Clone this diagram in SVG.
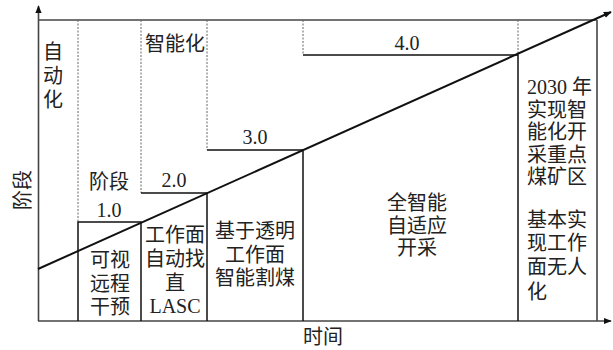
<svg xmlns="http://www.w3.org/2000/svg" width="613" height="350" viewBox="0 0 613 350">
<defs>
<style>
.ax{stroke:#444;stroke-width:1.6;fill:none}
.ln{stroke:#111;stroke-width:1.5;fill:none}
.ds{stroke:#666;stroke-width:1;stroke-dasharray:2 1.5;fill:none}
.diag{stroke:#111;stroke-width:2;fill:none}
text{font-family:"Liberation Serif","Noto Sans CJK SC",serif;font-size:20px;fill:#222;dominant-baseline:central}
.c{text-anchor:middle}
</style>
<marker id="ah" viewBox="0 0 10 10" refX="9" refY="5" markerWidth="8" markerHeight="8" markerUnits="userSpaceOnUse" orient="auto">
<path d="M0,1 L10,5 L0,9 Z" fill="#111"/>
</marker>
</defs>
<g id="connectors">
<line class="ax" x1="38.5" y1="321" x2="38.5" y2="6" marker-end="url(#ah)"/>
<line class="ax" x1="38" y1="321" x2="611" y2="321" marker-end="url(#ah)"/>
<line class="ax" x1="38" y1="20" x2="597" y2="20"/>
<line class="ax" x1="597" y1="20" x2="597" y2="321"/>
<line class="ds" x1="78" y1="20" x2="78" y2="222"/>
<line class="ds" x1="141" y1="20" x2="141" y2="193"/>
<line class="ds" x1="207" y1="20" x2="207" y2="150"/>
<line class="ds" x1="303" y1="20" x2="303" y2="55"/>
<line class="ds" x1="518" y1="20" x2="518" y2="55"/>
<polyline class="ln" points="78,321 78,222 141,222 141,321"/>
<polyline class="ln" points="141,193 207,193 207,321"/>
<polyline class="ln" points="207,150 303,150 303,321"/>
<polyline class="ln" points="303,55 518,55 518,321"/>
<line class="diag" x1="38" y1="269" x2="611" y2="12" marker-end="url(#ah)"/>
</g>
<g id="axis-labels">
<text class="c" transform="translate(23,190) rotate(-90)" x="0" y="0">阶段</text>
<text class="c" x="323" y="337">时间</text>
</g>
<g id="stage-auto">
<text class="c" x="53" y="52">自</text>
<text class="c" x="53" y="76">动</text>
<text class="c" x="53" y="100">化</text>
</g>
<g id="stage-smart">
<text class="c" x="175" y="44">智能化</text>
</g>
<g id="stage-1">
<text class="c" x="109" y="182">阶段</text>
<text class="c" x="109" y="210">1.0</text>
<text class="c" x="110" y="260">可视</text>
<text class="c" x="110" y="284">远程</text>
<text class="c" x="110" y="307">干预</text>
</g>
<g id="stage-2">
<text class="c" x="174" y="180">2.0</text>
<text class="c" x="175" y="235">工作面</text>
<text class="c" x="175" y="259">自动找</text>
<text class="c" x="175" y="283">直</text>
<text class="c" x="175" y="306">LASC</text>
</g>
<g id="stage-3">
<text class="c" x="255" y="137">3.0</text>
<text class="c" x="255" y="231">基于透明</text>
<text class="c" x="255" y="255">工作面</text>
<text class="c" x="255" y="278">智能割煤</text>
</g>
<g id="stage-4">
<text class="c" x="407" y="43">4.0</text>
<text class="c" x="417" y="203">全智能</text>
<text class="c" x="417" y="226">自适应</text>
<text class="c" x="417" y="248">开采</text>
</g>
<g id="goal-2030">
<text x="527" y="87">2030 年</text>
<text x="527" y="110">实现智</text>
<text x="527" y="132">能化开</text>
<text x="527" y="155">采重点</text>
<text x="527" y="177">煤矿区</text>
<text x="527" y="220">基本实</text>
<text x="527" y="243">现工作</text>
<text x="527" y="267">面无人</text>
<text x="527" y="292">化</text>
</g>
</svg>
